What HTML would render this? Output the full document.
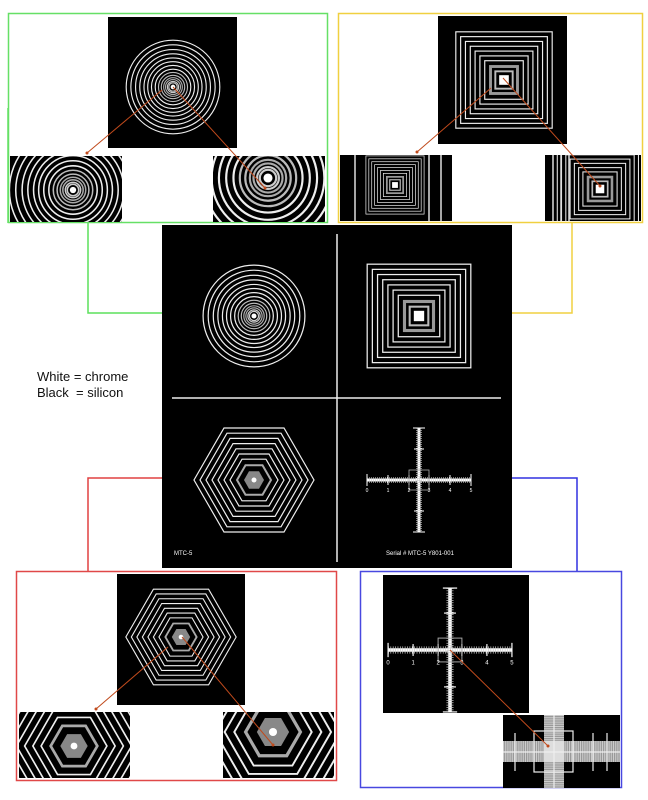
<!DOCTYPE html>
<html><head><meta charset="utf-8"><style>
html,body{margin:0;padding:0;background:#fff;width:648px;height:800px;overflow:hidden}
svg{display:block}
svg text{font-family:"Liberation Sans",sans-serif}
</style></head><body>
<svg width="648" height="800" viewBox="0 0 648 800" xmlns="http://www.w3.org/2000/svg">
<defs>
<symbol id="circ" viewBox="-55 -55 110 110">
 <g fill="none" stroke="#eee" stroke-width="1.2">
  <circle r="50"/><circle r="45"/><circle r="40"/><circle r="35.5"/><circle r="31"/><circle r="27"/><circle r="23"/><circle r="19"/>
  <circle r="15.5" stroke="#bbb"/><circle r="12.5" stroke="#bbb"/><circle r="10" stroke="#aaa"/><circle r="8" stroke="#aaa"/><circle r="6" stroke="#ccc"/><circle r="4.5" stroke="#ccc"/>
 </g><circle r="2.5" fill="#fff"/>
</symbol>
<symbol id="sq" viewBox="-55 -55 110 110">
 <g fill="none" stroke="#eee" stroke-width="1.2">
  <rect x="-50" y="-50" width="100" height="100"/><rect x="-45" y="-45" width="90" height="90"/><rect x="-40" y="-40" width="80" height="80"/><rect x="-35" y="-35" width="70" height="70"/><rect x="-30" y="-30" width="60" height="60"/><rect x="-25" y="-25" width="50" height="50"/><rect x="-20" y="-20" width="40" height="40"/>
  <rect x="-14" y="-14" width="28" height="28" stroke="#999" stroke-width="3"/><rect x="-9" y="-9" width="18" height="18" stroke="#bbb" stroke-width="2"/>
 </g><rect x="-5" y="-5" width="10" height="10" fill="#fff"/>
</symbol>
<symbol id="hex" viewBox="-62 -62 124 124">
 <g fill="none" stroke="#eee" stroke-width="1.2">
  <polygon points="60,0 30,52 -30,52 -60,0 -30,-52 30,-52"/>
  <polygon points="54,0 27,46.8 -27,46.8 -54,0 -27,-46.8 27,-46.8"/>
  <polygon points="48,0 24,41.6 -24,41.6 -48,0 -24,-41.6 24,-41.6"/>
  <polygon points="42,0 21,36.4 -21,36.4 -42,0 -21,-36.4 21,-36.4"/>
  <polygon points="36,0 18,31.2 -18,31.2 -36,0 -18,-31.2 18,-31.2"/>
  <polygon points="30,0 15,26 -15,26 -30,0 -15,-26 15,-26"/>
  <polygon points="24,0 12,20.8 -12,20.8 -24,0 -12,-20.8 12,-20.8"/>
  <polygon points="17,0 8.5,14.7 -8.5,14.7 -17,0 -8.5,-14.7 8.5,-14.7" stroke="#aaa" stroke-width="2"/>
 </g><polygon points="10,0 5,8.7 -5,8.7 -10,0 -5,-8.7 5,-8.7" fill="#888"/><circle r="2.5" fill="#fff"/>
</symbol>
<symbol id="ruler" viewBox="-55 -55 110 110">
 <g stroke="#fff">
  <line x1="-52" y1="0" x2="52" y2="0" stroke-width="3"/>
  <line x1="0" y1="-52" x2="0" y2="52" stroke-width="3"/>
  <line x1="-52" y1="0" x2="52" y2="0" stroke-width="6" stroke-dasharray="0.6 1.4" stroke="#ccc"/>
  <line x1="0" y1="-52" x2="0" y2="52" stroke-width="6" stroke-dasharray="0.6 1.4" stroke="#ccc"/>
  <g stroke-width="1"><line x1="-52" y1="-6" x2="-52" y2="6"/><line x1="-31" y1="-5" x2="-31" y2="5"/><line x1="-10" y1="-5" x2="-10" y2="5"/><line x1="10" y1="-5" x2="10" y2="5"/><line x1="31" y1="-5" x2="31" y2="5"/><line x1="52" y1="-6" x2="52" y2="6"/>
  <line x1="-6" y1="-52" x2="6" y2="-52"/><line x1="-5" y1="-31" x2="5" y2="-31"/><line x1="-5" y1="31" x2="5" y2="31"/><line x1="-6" y1="52" x2="6" y2="52"/></g>
  <rect x="-10" y="-10" width="20" height="20" fill="none" stroke="#aaa" stroke-width="0.8"/>
 </g>
 <g fill="#fff" font-size="5" font-family="Liberation Sans,sans-serif" text-anchor="middle">
  <text x="-52" y="12">0</text><text x="-31" y="12">1</text><text x="-10" y="12">2</text><text x="10" y="12">3</text><text x="31" y="12">4</text><text x="52" y="12">5</text><text x="58" y="12" font-size="3">mm</text>
 </g>
</symbol>
<marker id="dot" viewBox="0 0 4 4" refX="2" refY="2" markerWidth="3" markerHeight="3"><circle cx="2" cy="2" r="2" fill="#c04a1c"/></marker>
</defs>

<g fill="none" stroke-width="1.5">
 <polyline points="88,223 88,313 162,313" stroke="#5ce05c"/>
 <line x1="8" y1="108" x2="8" y2="223" stroke="#5ce05c"/>
 <polyline points="572,222 572,313 512,313" stroke="#f0d040"/>
 <polyline points="162,478 88,478 88,571" stroke="#e04040"/>
 <polyline points="512,478 577,478 577,571" stroke="#3030e0"/>
</g>

<!-- GREEN -->
<rect x="8.5" y="13.5" width="319" height="209" fill="none" stroke="#66e066" stroke-width="1.5"/>
<rect x="108" y="17" width="129" height="131" fill="#000"/>
<use href="#circ" x="121.5" y="35.5" width="103" height="103"/>
<svg x="10" y="156" width="112" height="66" viewBox="0 0 112 66"><rect width="112" height="66" fill="#000"/><use href="#circ" x="-7" y="-36" width="140" height="140"/></svg>
<svg x="213" y="156" width="112" height="66" viewBox="0 0 112 66"><rect width="112" height="66" fill="#000"/><use href="#circ" x="-45" y="-78" width="200" height="200"/></svg>
<g stroke="#c04a1c" stroke-width="1" marker-end="url(#dot)"><line x1="162" y1="90" x2="87" y2="153"/><line x1="173" y1="87" x2="265" y2="188"/></g>

<!-- YELLOW -->
<rect x="338.5" y="13.5" width="304" height="209" fill="none" stroke="#f0d040" stroke-width="1.5"/>
<rect x="438" y="16" width="129" height="128" fill="#000"/>
<use href="#sq" x="451" y="27" width="106" height="106"/>
<svg x="340" y="155" width="112" height="66" viewBox="0 0 112 66"><rect width="112" height="66" fill="#000"/><use href="#sq" x="23" y="-2" width="64" height="64"/><g stroke="#ddd" stroke-width="1.5"><line x1="15" y1="0" x2="15" y2="66"/><line x1="89" y1="0" x2="89" y2="66"/><line x1="101" y1="0" x2="101" y2="66"/></g></svg>
<svg x="545" y="155" width="96" height="66" viewBox="0 0 96 66"><rect width="96" height="66" fill="#000"/><use href="#sq" x="8" y="-13" width="94" height="94"/><g stroke="#ddd" stroke-width="1.5"><line x1="8" y1="0" x2="8" y2="66"/><line x1="16" y1="0" x2="16" y2="66"/><line x1="24" y1="0" x2="24" y2="66"/></g></svg>
<g stroke="#c04a1c" stroke-width="1" marker-end="url(#dot)"><line x1="491" y1="88" x2="417" y2="152"/><line x1="503" y1="78" x2="600" y2="186"/></g>

<!-- MAIN -->
<rect x="162" y="225" width="350" height="343" fill="#000"/>
<line x1="337" y1="234" x2="337" y2="562" stroke="#eee" stroke-width="1.5"/>
<line x1="172" y1="398" x2="501" y2="398" stroke="#eee" stroke-width="1.5"/>
<use href="#circ" x="198" y="260" width="112" height="112"/>
<use href="#sq" x="362" y="259" width="114" height="114"/>
<use href="#hex" x="192" y="418" width="124" height="124"/>
<use href="#ruler" x="364" y="425" width="110" height="110"/>
<text x="174" y="555" fill="#fff" font-size="6">MTC-5</text>
<text x="386" y="555" fill="#fff" font-size="6">Serial # MTC-5 Y801-001</text>

<text x="37" y="381" font-size="13" fill="#111">White = chrome</text>
<text x="37" y="397" font-size="13" fill="#111">Black&#160; = silicon</text>

<!-- RED -->
<rect x="16.5" y="571.5" width="320" height="209" fill="none" stroke="#e04848" stroke-width="1.5"/>
<rect x="117" y="574" width="128" height="131" fill="#000"/>
<use href="#hex" x="124" y="580" width="114" height="114"/>
<svg x="19" y="712" width="111" height="66" viewBox="0 0 111 66"><rect width="111" height="66" fill="#000"/><use href="#hex" x="-30" y="-51" width="170" height="170"/></svg>
<svg x="223" y="712" width="111" height="66" viewBox="0 0 111 66"><rect width="111" height="66" fill="#000"/><use href="#hex" x="-50" y="-80" width="200" height="200"/></svg>
<g stroke="#c04a1c" stroke-width="1" marker-end="url(#dot)"><line x1="168" y1="647" x2="96" y2="709"/><line x1="182" y1="637" x2="273" y2="745"/></g>

<!-- BLUE -->
<rect x="360.5" y="571.5" width="261" height="216" fill="none" stroke="#4848e0" stroke-width="1.5"/>
<rect x="383" y="575" width="146" height="138" fill="#000"/>
<use href="#ruler" x="384.5" y="584.5" width="131" height="131"/>
<svg x="503" y="715" width="117" height="73" viewBox="0 0 117 73"><rect width="117" height="73" fill="#000"/>
 <rect x="0" y="26" width="117" height="21" fill="#999"/><line x1="0" y1="36.5" x2="117" y2="36.5" stroke="#ccc" stroke-width="21" stroke-dasharray="1 1.2"/>
 <rect x="41" y="0" width="20" height="73" fill="#999"/><line x1="51" y1="0" x2="51" y2="73" stroke="#ccc" stroke-width="20" stroke-dasharray="1 1.2"/>
 <rect x="41" y="26" width="20" height="21" fill="#ddd"/>
 <g stroke="#eee" stroke-width="1.2" fill="none"><line x1="0" y1="37" x2="117" y2="37"/><line x1="51" y1="0" x2="51" y2="73"/><rect x="31" y="16" width="39" height="41"/><line x1="12" y1="18" x2="12" y2="56"/><line x1="90" y1="18" x2="90" y2="56"/><line x1="104" y1="18" x2="104" y2="56"/></g>
</svg>
<line x1="450" y1="650" x2="548" y2="746" stroke="#c04a1c" stroke-width="1" marker-end="url(#dot)"/>
</svg>
</body></html>
